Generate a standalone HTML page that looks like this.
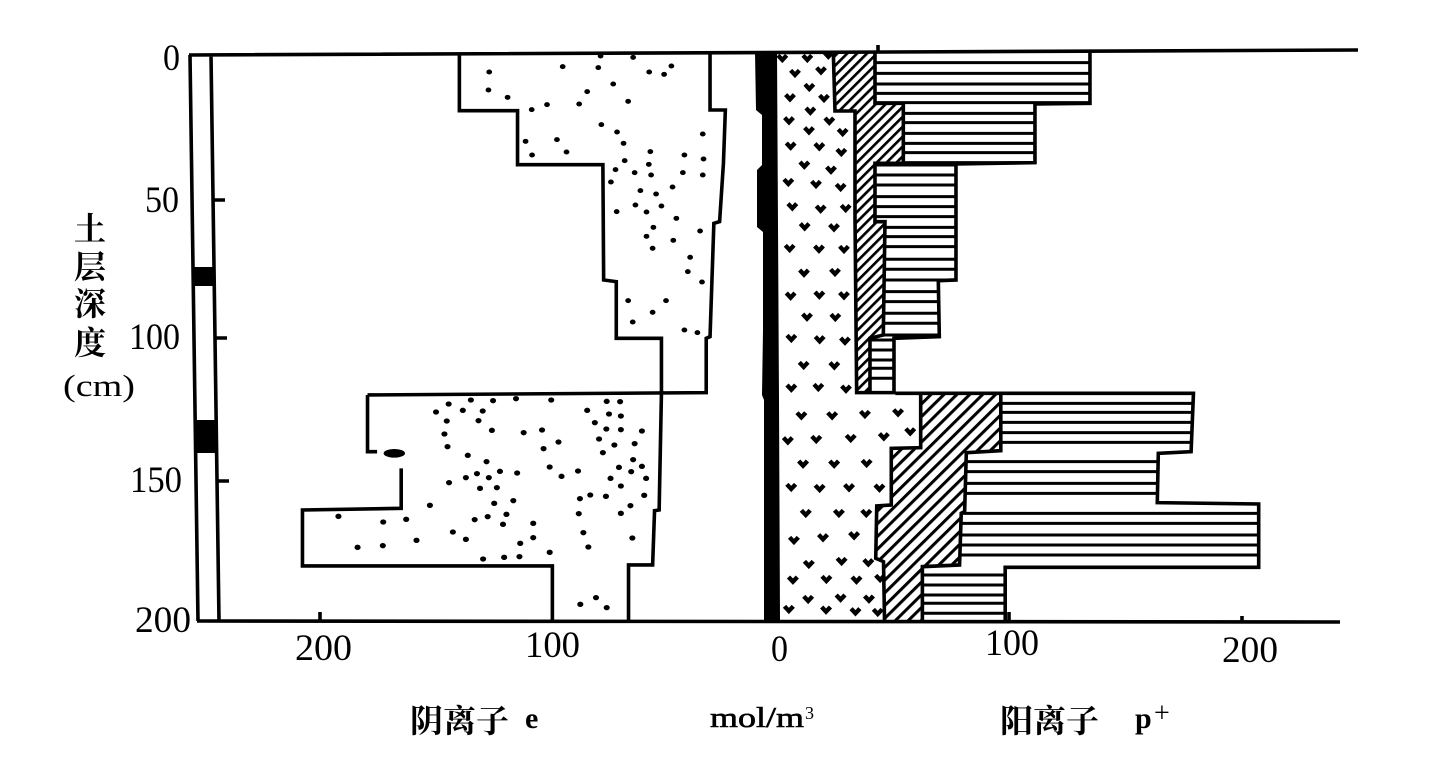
<!DOCTYPE html>
<html lang="zh"><head><meta charset="utf-8"><title>土层深度 离子分布</title>
<style>html,body{margin:0;padding:0;background:#fff}svg{display:block}
text{font-family:"Liberation Serif","Noto Serif CJK SC",serif;fill:#000}
.n{font-size:37px}.c{font-size:32px;font-weight:700}
.l{fill:none;stroke:#000;stroke-width:3.6;vector-effect:non-scaling-stroke;stroke-linejoin:miter}
.s{fill:none;stroke:#000;stroke-width:3;vector-effect:non-scaling-stroke}
</style></head><body>
<svg xmlns="http://www.w3.org/2000/svg" width="1441" height="757" viewBox="0 0 1441 757">
<defs>
<pattern id="h1" width="21" height="21" patternUnits="userSpaceOnUse" patternTransform="rotate(45)"><rect width="8" height="21" fill="#000"/></pattern>
<pattern id="h2" width="27" height="27" patternUnits="userSpaceOnUse" patternTransform="rotate(45)"><rect width="9" height="27" fill="#000"/></pattern>
</defs>
<rect width="1441" height="757" fill="#fff"/>

<!-- frame -->
<path class="l" d="M189 55L1358 50M197 621L1340 622M190 55L198 621M211 55L219 621M878 45V53"/>
<path class="l" d="M213 200H225M215 338H227M218 481H229M320 612V621M1009 612V621M1242 616V621"/>
<rect x="192" y="267" width="23" height="19" fill="#000"/>
<rect x="196" y="420" width="22" height="33" fill="#000"/>

<!-- central black strip -->
<path fill="#000" d="M755 52L756 110L762 115L762 165L757 170L757 227L763 232L763 330L762 395L764 400L764 620L780 620L779 400L778 225L777 52Z"/>

<!-- anion outline upper -->
<g transform="translate(180,30) scale(.3827,.3333)">
<path class="l" d="M730 72V242H882V404H1105L1107 750L1140 755V925H1258V1090M1385 72V240H1425L1420 400L1410 575L1395 580L1385 920L1375 925V1088L490 1095"/>
<path fill="none" stroke="#000" stroke-width="15" stroke-linecap="round" d="M808 126h0M1000 110h0M1093 113h0M1184 82h0M1099 78h0M1226 126h0M1265 133h0M1284 108h0M806 180h0M856 202h0M1064 185h0M1132 162h0M1171 214h0M919 239h0M959 224h0M1043 222h0M1101 284h0M1142 306h0M1366 312h0M903 334h0M985 329h0M1159 340h0M1229 365h0M1318 375h0M1368 387h0M920 375h0M1010 366h0M1162 392h0M1225 403h0M1138 419h0M1188 428h0M1231 435h0M1314 428h0M1366 435h0M1126 456h0M1287 471h0M1203 482h0M1244 492h0M1190 525h0M1258 528h0M1219 546h0M1141 545h0M1297 565h0M1237 592h0M1359 603h0M1219 619h0M1289 631h0M1235 655h0M1333 682h0M1327 725h0M1364 756h0M1171 812h0M1270 812h0M1235 847h0M1183 876h0M1318 900h0M1352 908h0"/>
</g>

<!-- anion outline lower -->
<g transform="translate(180,380) scale(.3827,.3333)">
<path class="l" d="M490 45V215H515M578 265V385L320 390V558H973V720M1172 720V555H1235L1240 392L1252 390L1258 40"/>
<ellipse cx="560" cy="220" rx="28" ry="13" fill="#000"/>
<path fill="none" stroke="#000" stroke-width="16" stroke-linecap="round" d="M760 60h0M818 62h0M878 56h0M970 60h0M1115 64h0M1150 65h0M702 72h0M669 96h0M739 91h0M791 93h0M1064 91h0M1121 102h0M1152 108h0M697 123h0M780 122h0M1084 128h0M815 151h0M691 162h0M898 158h0M946 150h0M1114 147h0M1152 149h0M1207 153h0M1095 177h0M989 186h0M1135 195h0M1188 191h0M699 200h0M950 206h0M1105 218h0M752 226h0M801 245h0M1184 239h0M966 261h0M1147 262h0M1207 259h0M1179 275h0M836 274h0M881 279h0M776 281h0M807 293h0M747 293h0M703 308h0M997 289h0M1040 273h0M1125 295h0M1218 295h0M1152 318h0M784 325h0M828 323h0M1045 356h0M1072 345h0M1113 349h0M1213 346h0M821 370h0M871 362h0M653 376h0M1177 377h0M414 409h0M531 426h0M591 418h0M770 419h0M804 410h0M853 403h0M1042 401h0M1152 400h0M844 433h0M923 430h0M713 456h0M1054 458h0M747 478h0M923 473h0M618 481h0M1182 474h0M889 490h0M530 497h0M464 502h0M1067 501h0M966 517h0M847 532h0M887 530h0M792 537h0M1046 673h0M1087 653h0M1115 683h0"/>
</g>

<!-- cation upper -->
<g transform="translate(750,30) scale(.3333)">
<path fill="url(#h1)" d="M250 68L255 243H315V560L320 1085H360V925L400 915L405 578L375 575V400H460V220H375V68Z"/>
<path class="l" d="M250 68L255 243H315V560L320 1088H432V925L568 920L565 752L618 750V402L855 398V222L1020 220V68M375 68V220H460V400H375V575H405L400 915L360 925V1088"/>
<path class="s" d="M375 98H1020M375 130H1020M375 162H1020M375 190H1020M375 218H1020M460 250H855M460 278H855M460 310H855M460 340H855M460 368H855M460 398H855M375 405H618M375 435H618M375 465H618M375 500H618M375 530H618M375 560H618M405 592H618M405 620H618M405 650H618M405 688H618M405 718H618M405 750H618M400 785H565M400 815H565M400 850H565M400 880H565M400 915H565M360 930H432M360 960H432M360 990H432M360 1015H432M360 1045H432"/>
<path fill="none" stroke="#000" stroke-width="13" d="M84 76l13 14 13-14M159 76l13 14 13-14M222 66l13 14 13-14M122 121l13 14 13-14M200 113l13 14 13-14M165 163l13 14 13-14M107 194l13 14 13-14M209 196l13 14 13-14M168 234l13 14 13-14M104 263l13 14 13-14M225 264l13 14 13-14M164 293l13 14 13-14M265 298l13 14 13-14M109 339l13 14 13-14M195 341l13 14 13-14M261 358l13 14 13-14M150 396l13 14 13-14M230 411l13 14 13-14M102 448l13 14 13-14M185 454l13 14 13-14M259 463l13 14 13-14M114 521l13 14 13-14M199 528l13 14 13-14M274 526l13 14 13-14M151 581l13 14 13-14M239 584l13 14 13-14M106 646l13 14 13-14M194 648l13 14 13-14M269 649l13 14 13-14M149 720l13 14 13-14M242 718l13 14 13-14M109 789l13 14 13-14M195 786l13 14 13-14M269 788l13 14 13-14M158 852l13 14 13-14M243 853l13 14 13-14M111 916l13 14 13-14M196 920l13 14 13-14M272 924l13 14 13-14M148 997l13 14 13-14M240 998l13 14 13-14M111 1065l13 14 13-14M192 1063l13 14 13-14M275 1068l13 14 13-14"/>
</g>

<!-- cation lower -->
<g transform="translate(750,380) scale(.338,.3333)">
<path fill="url(#h2)" d="M505 45V203L418 205V375L375 378L372 535L395 545L398 722H510V560L620 555L625 400L635 395L640 218L742 212V40H505Z"/>
<path class="l" d="M430 40H1312L1305 215L1208 220L1205 368L1505 372V562H755V722M505 40V203L418 205V375L375 378L372 535L395 545L398 722M742 40V212L640 218L635 395L625 400L620 555L510 560V722"/>
<path class="s" d="M742 70H1308M742 97H1308M742 127H1308M742 158H1306M742 187H1306M640 245H1205M640 275H1205M640 310H1205M640 340H1205M625 400H1505M625 430H1505M625 465H1505M625 495H1505M625 525H1505M510 585H755M510 615H755M510 645H755M510 670H755M510 700H755"/>
<path fill="none" stroke="#000" stroke-width="13" d="M139 98l13 14 13-14M230 98l13 14 13-14M327 94l13 14 13-14M425 89l13 14 13-14M461 146l13 14 13-14M383 161l13 14 13-14M285 166l13 14 13-14M183 169l13 14 13-14M99 173l13 14 13-14M144 243l13 14 13-14M236 243l13 14 13-14M332 241l13 14 13-14M109 313l13 14 13-14M193 316l13 14 13-14M280 314l13 14 13-14M370 315l13 14 13-14M152 391l13 14 13-14M250 391l13 14 13-14M331 391l13 14 13-14M117 472l13 14 13-14M203 464l13 14 13-14M295 458l13 14 13-14M161 544l13 14 13-14M258 535l13 14 13-14M337 539l13 14 13-14M114 591l13 14 13-14M213 589l13 14 13-14M302 591l13 14 13-14M372 586l13 14 13-14M159 649l13 14 13-14M255 645l13 14 13-14M339 648l13 14 13-14M102 679l13 14 13-14M212 681l13 14 13-14M299 686l13 14 13-14M365 688l13 14 13-14"/>
</g>

<!-- y axis numbers -->
<text class="n" x="163" y="70" textLength="17" lengthAdjust="spacingAndGlyphs">0</text>
<text class="n" x="145" y="212" textLength="34" lengthAdjust="spacingAndGlyphs">50</text>
<text class="n" x="129" y="349" textLength="51" lengthAdjust="spacingAndGlyphs">100</text>
<text class="n" x="130" y="492" textLength="52" lengthAdjust="spacingAndGlyphs">150</text>
<text class="n" x="135" y="632" textLength="56" lengthAdjust="spacingAndGlyphs">200</text>

<!-- x axis numbers -->
<text class="n" x="295" y="660" textLength="57" lengthAdjust="spacingAndGlyphs">200</text>
<text class="n" x="525" y="657" textLength="55" lengthAdjust="spacingAndGlyphs">100</text>
<text class="n" x="771" y="661" textLength="17" lengthAdjust="spacingAndGlyphs">0</text>
<text class="n" x="985" y="655" textLength="54" lengthAdjust="spacingAndGlyphs">100</text>
<text class="n" x="1222" y="662" textLength="56" lengthAdjust="spacingAndGlyphs">200</text>

<!-- y axis title -->
<text class="c" x="74" y="240">土</text>
<text class="c" x="74" y="278">层</text>
<text class="c" x="74" y="315">深</text>
<text class="c" x="74" y="354">度</text>
<text x="63" y="396" style="font-size:31px" textLength="72" lengthAdjust="spacingAndGlyphs">(cm)</text>

<!-- bottom labels -->
<text class="c" x="410" y="732" textLength="99" lengthAdjust="spacingAndGlyphs">阴离子</text>
<text x="525" y="728" style="font-size:30px;font-weight:700">e</text>
<text x="710" y="727" style="font-size:29px" stroke="#000" stroke-width=".6" textLength="94" lengthAdjust="spacingAndGlyphs">mol/m</text>
<text x="805" y="719" style="font-size:18px">3</text>
<text class="c" x="1000" y="732" textLength="99" lengthAdjust="spacingAndGlyphs">阳离子</text>
<text x="1135" y="728" style="font-size:30px;font-weight:700">p</text>
<text x="1154" y="722" style="font-size:28px">+</text>
</svg>
</body></html>
